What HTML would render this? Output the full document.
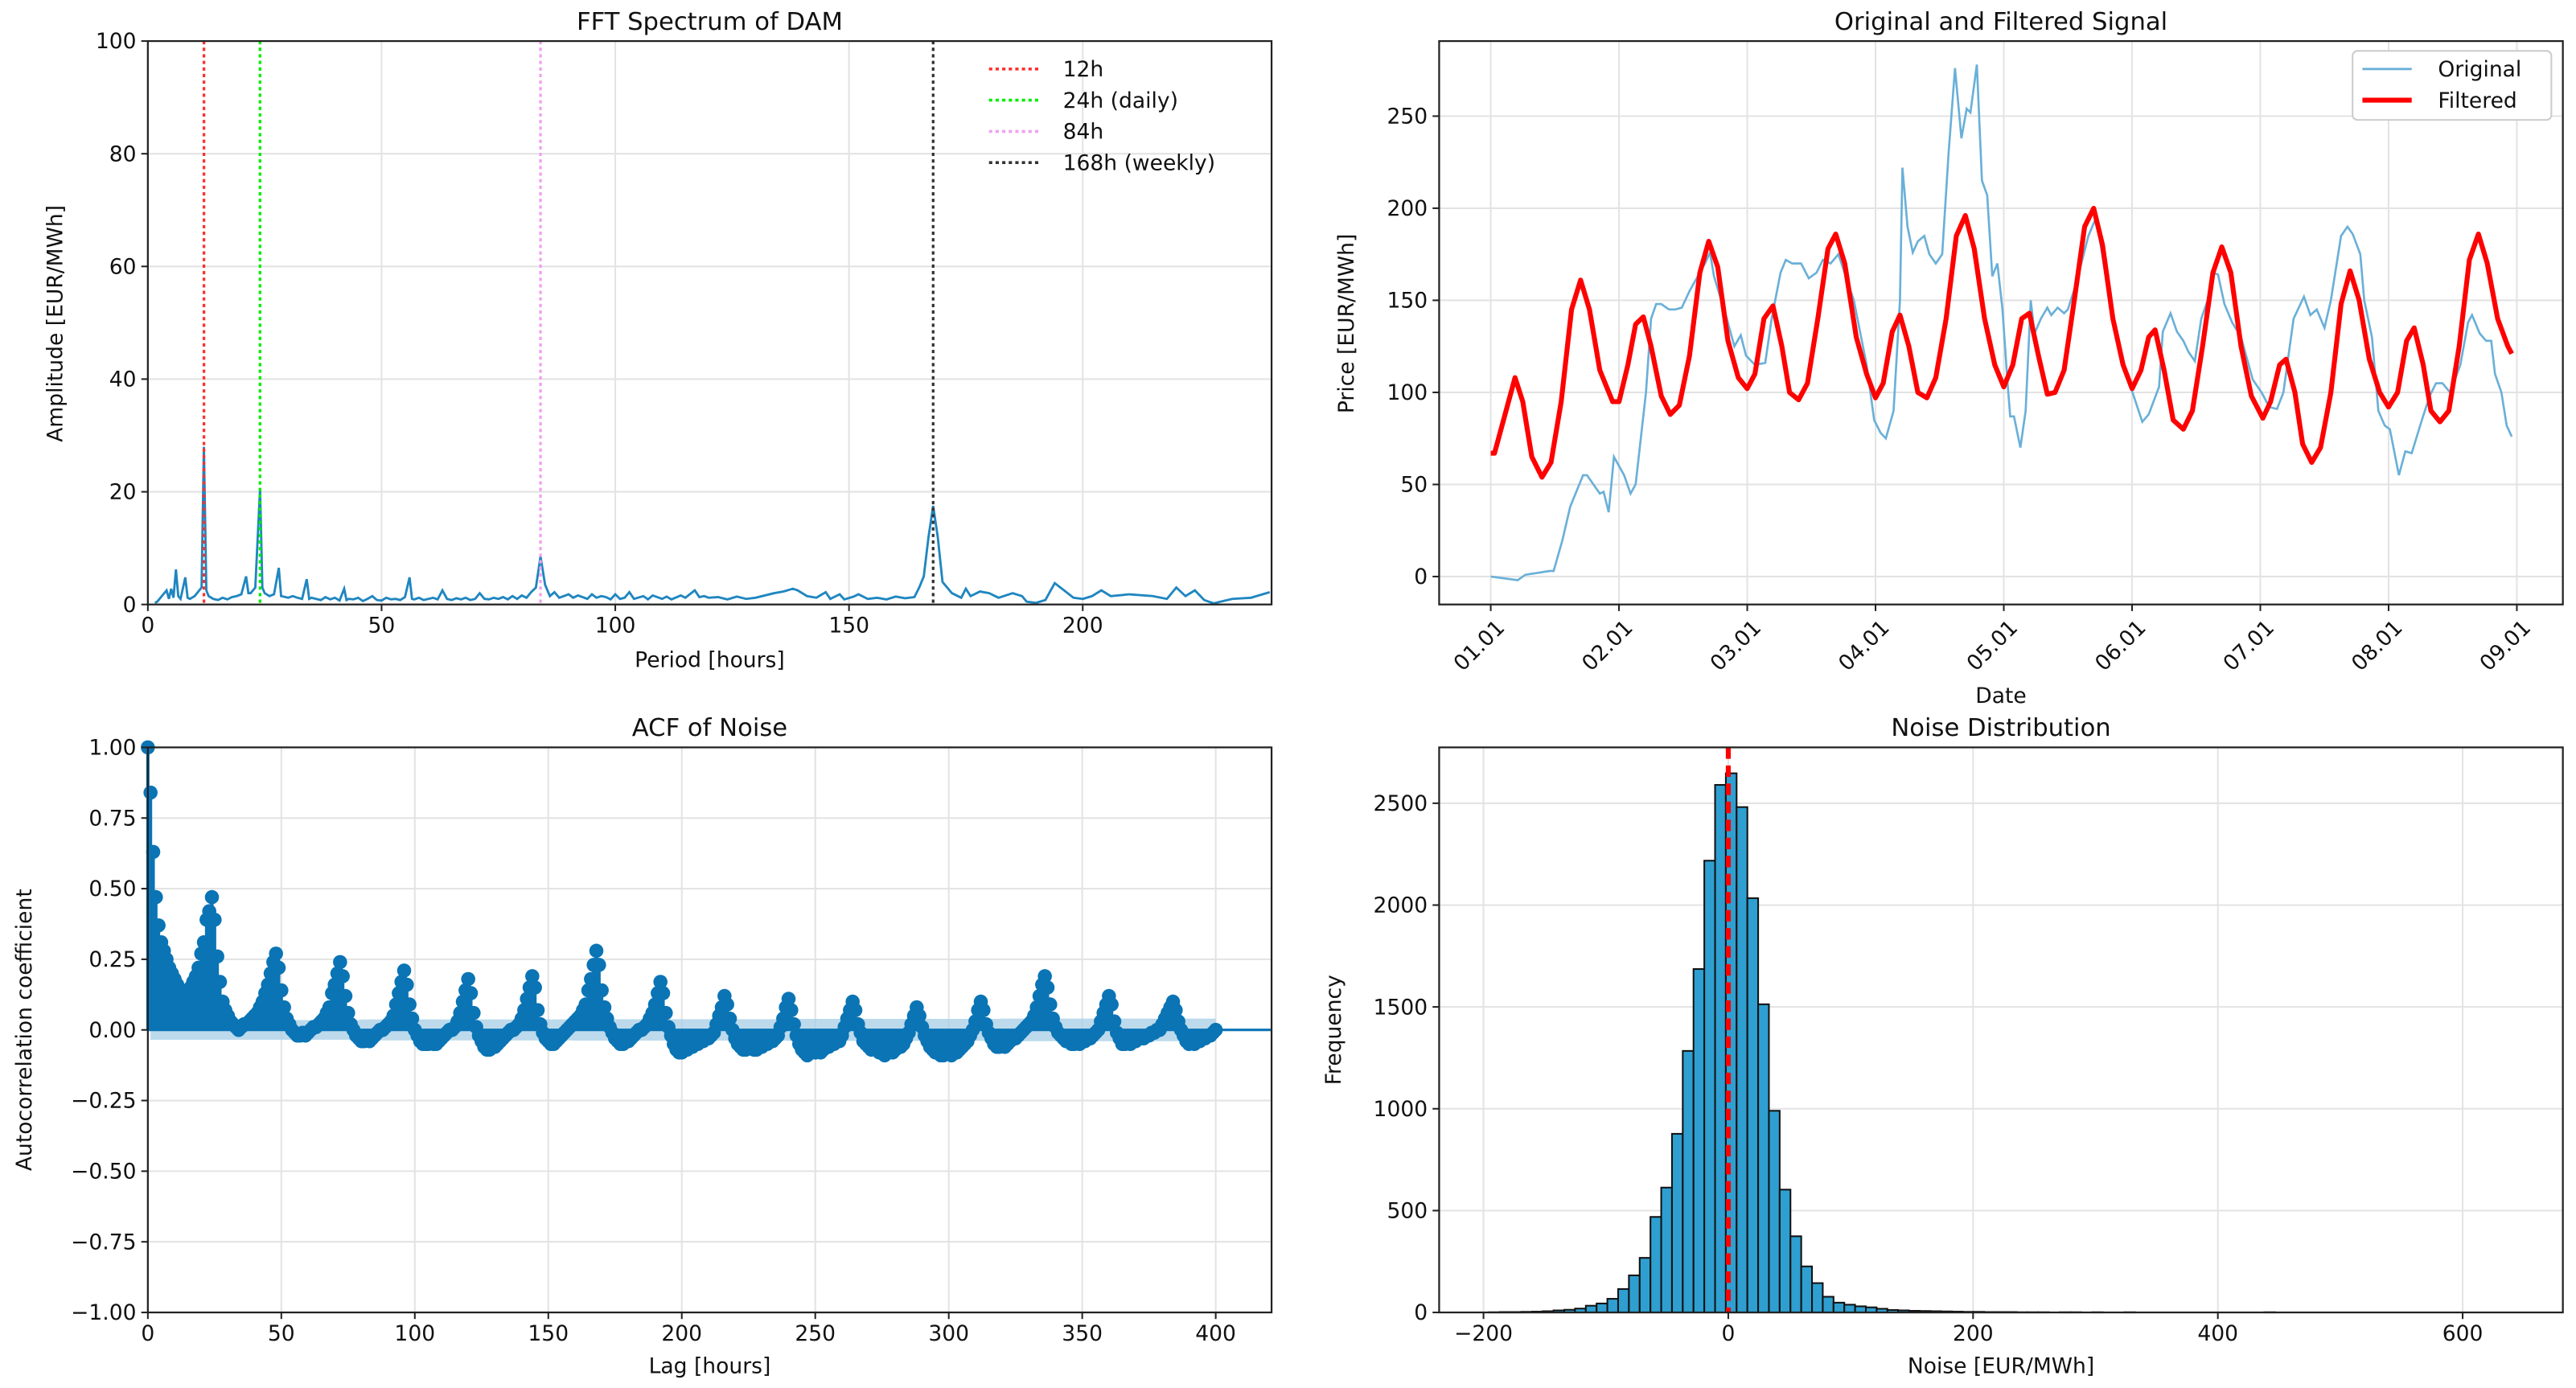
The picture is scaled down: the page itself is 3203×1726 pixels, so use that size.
<!DOCTYPE html>
<html><head><meta charset="utf-8"><style>
html,body{margin:0;padding:0;background:#fff;}
svg{display:block;font-family:"DejaVu Sans","Liberation Sans",sans-serif;}
</style></head><body>
<svg id="fig" width="3203" height="1726" viewBox="0 0 1568 845" preserveAspectRatio="none" xmlns="http://www.w3.org/2000/svg"></svg>
<script>
// ---------- FFT data ----------
const fftPeriods=[1.5,2,3,4,4.5,5,5.5,6,6.5,7,8,8.5,9,10,11,11.5,12,12.5,13,14,15,16,17,18,19,20,21,21.5,22,23,24,24.5,25,26,27,28,28.5,29,30,31,32,33,34,34.5,35,36,37,38,39,40,41,42,42.5,43,44,45,46,47,48,49,50,51,52,53,54,55,56,56.5,57,58,59,60,61,62,63,64,65,66,67,68,69,70,71,72,73,74,75,76,77,78,79,80,81,82,83,84,85,86,87,88,89,90,91,92,93,94,95,96,97,98,99,100,101,102,103,104,106,107,108,110,111,112,114,115,117,118,119,120,122,124,126,128,130,132,134,136,138,139,141,143,145,146,148,149,151,152,154,156,158,160,162,164,165,166,167,168,169,170,172,174,175,176,178,180,182,185,187,188,190,192,194,196,198,200,202,204,206,210,215,218,220,222,224,226,228,232,236,240];
const fftAmps=[0.3,0.5,1.5,2.5,1,2.8,1.2,6.2,1.5,1,4.8,1.2,1,1.5,2.5,3,28,2.5,1.5,1,0.8,1.2,0.9,1.3,1.5,1.8,5,2,2,3,20.5,3,2,1.5,1.8,6.5,1.5,1.4,1.2,1.5,1.2,1,4.5,1,1.2,1,0.8,1.3,0.9,1.2,0.7,2.8,0.8,1,0.9,1.2,0.6,1,1.5,0.8,0.7,1.2,0.9,1,0.8,1.3,4.8,1,0.9,1.2,0.8,1,1.2,0.9,2.5,1,0.8,1.1,0.9,1.2,0.8,1,2,1,0.9,1.2,1,1.3,0.9,1.5,1,1.6,1.2,2.2,3,8.5,3.5,1.5,2.2,1.2,1.5,1.8,1.2,1.6,1.3,1,1.8,1.2,1.5,1.3,0.9,1.8,1,1.2,2.2,1,1.5,0.9,1.6,1,1.4,0.9,1.6,1.2,2.5,1.3,1.5,1.2,1.3,0.9,1.4,1,1.2,1.6,2,2.3,2.8,2.5,1.5,1.2,2.2,1,1.8,0.9,1.4,1.8,1,1.2,0.9,1.4,1.1,1.3,3,5,12,17.5,12,4,2,1.2,2.8,1.5,2.3,2,1.2,2,1.5,0.5,0.3,0.8,3.8,2.5,1.2,1,1.5,2.5,1.5,1.8,1.5,1,3,1.5,2.5,0.8,0.2,1,1.2,2.2];
const fftMarkerPeriods=[12,24,84,168];
const fftMarkerLabels=["12h","24h (daily)","84h","168h (weekly)"];
const fftXTicks=[0,50,100,150,200];
const fftYTicks=[0,20,40,60,80,100];
// ---------- Signal data ----------
const origT=[0,0.21,0.27,0.46,0.49,0.56,0.62,0.72,0.75,0.85,0.88,0.92,0.96,1.04,1.09,1.13,1.21,1.25,1.29,1.33,1.39,1.44,1.49,1.55,1.67,1.71,1.74,1.84,1.90,1.95,1.99,2.06,2.14,2.19,2.26,2.30,2.35,2.42,2.48,2.54,2.59,2.65,2.71,2.83,2.93,2.99,3.04,3.08,3.14,3.19,3.21,3.25,3.29,3.33,3.38,3.42,3.47,3.52,3.57,3.62,3.67,3.71,3.74,3.79,3.83,3.87,3.91,3.95,3.99,4.03,4.05,4.08,4.13,4.17,4.21,4.24,4.29,4.34,4.37,4.42,4.47,4.50,4.56,4.66,4.72,4.79,4.88,4.98,5.08,5.13,5.21,5.24,5.30,5.35,5.40,5.44,5.49,5.54,5.59,5.63,5.67,5.72,5.78,5.85,5.94,6.01,6.07,6.13,6.18,6.26,6.34,6.39,6.44,6.50,6.55,6.63,6.68,6.72,6.78,6.81,6.87,6.92,6.97,7.01,7.08,7.13,7.18,7.26,7.32,7.37,7.42,7.48,7.56,7.62,7.65,7.71,7.76,7.80,7.83,7.88,7.92,7.96];
const origV=[0,-2,1,3,3,20,38,55,55,45,46,35,65,55,45,50,100,140,148,148,145,145,146,155,170,176,163,140,125,131,120,115,116,140,165,172,170,170,162,165,172,170,175,150,115,85,78,75,90,150,222,190,176,182,185,175,170,175,230,276,238,254,252,278,215,207,163,170,145,105,87,87,70,90,150,132,140,146,142,146,143,145,158,185,195,165,130,105,84,88,103,133,143,133,128,122,117,140,150,165,164,148,138,130,107,100,92,91,100,140,152,142,145,135,150,185,190,186,175,150,130,90,82,80,55,68,67,85,98,105,105,100,115,138,142,132,128,128,110,100,82,76];
const filtT=[0,0.03,0.1,0.19,0.25,0.32,0.4,0.47,0.55,0.63,0.7,0.77,0.85,0.95,1.0,1.07,1.13,1.19,1.25,1.33,1.4,1.47,1.55,1.63,1.7,1.77,1.85,1.93,2.0,2.06,2.13,2.2,2.27,2.33,2.4,2.47,2.55,2.63,2.69,2.76,2.85,2.93,3.0,3.06,3.13,3.19,3.26,3.33,3.4,3.47,3.55,3.63,3.7,3.77,3.85,3.93,4.0,4.07,4.14,4.2,4.27,4.34,4.4,4.47,4.55,4.63,4.7,4.77,4.85,4.93,5.0,5.07,5.13,5.18,5.25,5.32,5.4,5.47,5.55,5.63,5.7,5.77,5.85,5.93,6.02,6.08,6.15,6.2,6.27,6.33,6.4,6.47,6.55,6.63,6.7,6.77,6.85,6.93,7.0,7.07,7.14,7.2,7.27,7.33,7.4,7.47,7.55,7.63,7.7,7.77,7.85,7.93,7.96];
const filtV=[67,67,85,108,95,65,54,62,95,145,161,145,112,95,95,115,137,141,125,98,88,93,120,165,182,168,128,108,102,110,140,147,125,100,96,105,140,178,186,170,130,110,97,105,133,142,125,100,97,108,140,185,196,178,140,115,103,115,140,143,120,99,100,112,150,190,200,180,140,115,102,112,130,134,112,85,80,90,125,165,179,165,125,98,86,95,115,118,100,72,62,70,100,148,166,150,118,100,92,100,128,135,115,90,84,90,125,172,186,170,140,125,121];
const sigYTicks=[0,50,100,150,200,250];
const sigXTicks=[0,1,2,3,4,5,6,7,8];
const sigXLabels=["01.01","02.01","03.01","04.01","05.01","06.01","07.01","08.01","09.01"];
// ---------- ACF data (lags 0..400) ----------
const acfValues=[1.00,0.84,0.63,0.47,0.37,0.31,0.28,0.25,0.22,0.20,0.18,0.16,0.14,0.13,0.13,0.14,0.15,0.17,0.19,0.22,0.27,0.31,0.39,0.42,0.47,
0.39,0.26,0.17,0.10,0.07,0.05,0.03,0.02,0.01,0.00,0.01,0.02,0.02,0.03,0.04,0.05,0.06,0.08,0.10,0.13,0.16,0.20,0.24,0.27,
0.22,0.14,0.08,0.04,0.02,0.00,-0.01,-0.02,-0.02,-0.01,-0.02,-0.01,0.00,0.01,0.01,0.02,0.03,0.04,0.06,0.08,0.13,0.16,0.20,0.24,
0.19,0.12,0.06,0.02,0.00,-0.02,-0.03,-0.04,-0.04,-0.03,-0.04,-0.03,-0.02,-0.01,0.00,0.00,0.01,0.02,0.03,0.05,0.09,0.13,0.17,0.21,
0.16,0.09,0.04,0.00,-0.02,-0.04,-0.05,-0.05,-0.05,-0.04,-0.05,-0.05,-0.04,-0.03,-0.02,-0.01,0.00,0.00,0.01,0.03,0.06,0.10,0.14,0.18,
0.13,0.06,0.01,-0.02,-0.04,-0.06,-0.07,-0.07,-0.06,-0.06,-0.05,-0.04,-0.03,-0.02,-0.01,0.00,0.00,0.01,0.02,0.04,0.07,0.11,0.15,0.19,
0.15,0.07,0.02,-0.01,-0.03,-0.04,-0.05,-0.05,-0.04,-0.03,-0.02,-0.01,0.00,0.01,0.02,0.03,0.04,0.05,0.07,0.09,0.14,0.18,0.23,0.28,
0.23,0.14,0.08,0.04,0.01,-0.01,-0.03,-0.04,-0.05,-0.05,-0.04,-0.04,-0.03,-0.02,-0.01,0.00,0.00,0.01,0.02,0.04,0.06,0.09,0.13,0.17,
0.13,0.06,0.01,-0.02,-0.05,-0.07,-0.08,-0.08,-0.07,-0.07,-0.06,-0.06,-0.05,-0.05,-0.04,-0.04,-0.03,-0.03,-0.02,-0.01,0.02,0.05,0.08,0.12,
0.09,0.04,0.00,-0.03,-0.05,-0.06,-0.07,-0.07,-0.06,-0.06,-0.07,-0.07,-0.06,-0.06,-0.05,-0.05,-0.04,-0.04,-0.03,-0.02,0.01,0.04,0.08,0.11,
0.07,0.02,-0.02,-0.05,-0.07,-0.08,-0.09,-0.08,-0.07,-0.08,-0.07,-0.08,-0.07,-0.06,-0.06,-0.05,-0.05,-0.04,-0.04,-0.02,0.01,0.04,0.07,0.10,
0.07,0.02,-0.01,-0.04,-0.05,-0.06,-0.07,-0.06,-0.07,-0.08,-0.08,-0.09,-0.08,-0.07,-0.08,-0.07,-0.06,-0.06,-0.05,-0.03,-0.01,0.02,0.05,0.08,
0.05,0.01,-0.02,-0.04,-0.06,-0.07,-0.08,-0.08,-0.09,-0.09,-0.08,-0.08,-0.09,-0.08,-0.08,-0.07,-0.06,-0.05,-0.04,-0.02,0.00,0.03,0.07,0.10,
0.07,0.02,-0.01,-0.03,-0.05,-0.06,-0.06,-0.05,-0.06,-0.05,-0.04,-0.03,-0.03,-0.02,-0.01,0.00,0.01,0.02,0.03,0.05,0.08,0.12,0.16,0.19,
0.15,0.09,0.04,0.01,-0.01,-0.02,-0.03,-0.04,-0.04,-0.05,-0.05,-0.04,-0.05,-0.04,-0.04,-0.03,-0.03,-0.02,-0.01,0.00,0.03,0.06,0.09,0.12,
0.09,0.03,-0.01,-0.03,-0.05,-0.05,-0.04,-0.05,-0.04,-0.04,-0.03,-0.03,-0.03,-0.02,-0.02,-0.01,-0.01,0.00,0.00,0.02,0.04,0.06,0.08,0.10,
0.07,0.03,0.00,-0.02,-0.04,-0.05,-0.04,-0.05,-0.04,-0.04,-0.03,-0.03,-0.02,-0.02,-0.01,0.00];
const acfConfBand=[0.035,0.037,0.038,0.039,0.040];
const acfXTicks=[0,50,100,150,200,250,300,350,400];
const acfYTicks=[-1,-0.75,-0.5,-0.25,0,0.25,0.5,0.75,1];
// ---------- Histogram data ----------
const histStart=-195.6;
const histBinWidth=8.8;
const histCounts=[1,2,2,3,4,6,10,13,19,33,44,67,115,182,268,469,613,877,1284,1686,2218,2590,
2647,2481,2034,1513,990,603,374,226,144,77,48,38,30,25,18,12,10,8,7,6,5,4,3,3,2,2,2,1,1,1,0,1,1,0,1,0,0,1,0,0,0,0,0,0,0,0,0,0,0,0,1];
const histXTicks=[-200,0,200,400,600];
const histYTicks=[0,500,1000,1500,2000,2500];

const svg=document.getElementById('fig');
const NS='http://www.w3.org/2000/svg';
function mk(tag,attrs,parent){const e=document.createElementNS(NS,tag);for(const k in attrs)e.setAttribute(k,attrs[k]);(parent||svg).appendChild(e);return e;}
function txt(s,x,y,size,anchor,parent,rot){const t=mk('text',{x:x,y:y,'font-size':size,'text-anchor':anchor||'middle',fill:'#111'},parent);if(rot)t.setAttribute('transform','rotate('+rot+' '+x+' '+y+')');t.textContent=s;return t;}
function lin(d0,d1,p0,p1){return v=>p0+(v-d0)*(p1-p0)/(d1-d0);}

function axes(name,L,R,T,B){const g=mk('g',{});return g;}
function frame(g,L,R,T,B){const f=mk('rect',{x:L,y:T,width:R-L,height:B-T,fill:'none',stroke:'#222','stroke-width':1.1},g);}
function gridX(g,xs,sx,T,B){xs.forEach(v=>{mk('line',{x1:sx(v),x2:sx(v),y1:T,y2:B,stroke:'#e3e3e3','stroke-width':1},g);});}
function gridY(g,ys,sy,L,R){ys.forEach(v=>{mk('line',{x1:L,x2:R,y1:sy(v),y2:sy(v),stroke:'#e3e3e3','stroke-width':1},g);});}
function ticksX(g,xs,sx,B,labels){xs.forEach((v,i)=>{mk('line',{x1:sx(v),x2:sx(v),y1:B,y2:B+4,stroke:'#222'},g);const t=txt(labels?labels[i]:String(v),sx(v),B+17,13,'middle',g);});}
function ticksY(g,ys,sy,L,fmt){ys.forEach(v=>{mk('line',{x1:L-4,x2:L,y1:sy(v),y2:sy(v),stroke:'#222'},g);const t=txt(fmt?fmt(v):String(v),L-7,sy(v)+4.5,13,'end',g);});}

// ===== FFT =====
(function(){const L=90,R=774,T=25,B=368;const g=axes('fft-spectrum-chart');
const sx=lin(0,240.4,L,R),sy=lin(0,100,B,T);
gridX(g,fftXTicks,sx,T,B);gridY(g,fftYTicks,sy,L,R);
const cols=['#ff3030','#00ee00','#f0a0f0','#333'];
const pts=fftPeriods.map((p,i)=>sx(p).toFixed(1)+','+sy(fftAmps[i]).toFixed(1)).join(' ');
const pl=mk('polyline',{points:pts,fill:'none',stroke:'#1f86c0','stroke-width':1.4},g);

fftMarkerPeriods.forEach((p,i)=>{const l=mk('line',{x1:sx(p),x2:sx(p),y1:T,y2:B,stroke:cols[i],'stroke-width':1.6,'stroke-dasharray':'2,2'},g);});
frame(g,L,R,T,B);ticksX(g,fftXTicks,sx,B);ticksY(g,fftYTicks,sy,L);
const t1=txt('FFT Spectrum of DAM',432,18,15,'middle',g);
const t2=txt('Period [hours]',432,406,13,'middle',g);
const t3=txt('Amplitude [EUR/MWh]',38,197,13,'middle',g,-90);
const lg=mk('g',{},g);
fftMarkerLabels.forEach((s,i)=>{const y=42+i*19;mk('line',{x1:602,x2:632,y1:y,y2:y,stroke:cols[i],'stroke-width':1.8,'stroke-dasharray':'2,2'},lg);const e=txt(s,647,y+4.5,13,'start',lg);});
})();

// ===== Signal =====
(function(){const L=876,R=1560,T=25,B=368;const g=axes('signal-chart');
const sx=lin(0,8,907.4,1532),sy=lin(0,250,351,70.7);
gridX(g,sigXTicks,sx,T,B);gridY(g,sigYTicks,sy,L,R);
const p1=mk('polyline',{points:origT.map((t,i)=>sx(t).toFixed(1)+','+sy(origV[i]).toFixed(1)).join(' '),fill:'none',stroke:'#6ab0d8','stroke-width':1.3},g);

const p2=mk('polyline',{points:filtT.map((t,i)=>sx(t).toFixed(1)+','+sy(filtV[i]).toFixed(1)).join(' '),fill:'none',stroke:'#ff0000','stroke-width':3,'stroke-linejoin':'round'},g);

frame(g,L,R,T,B);ticksY(g,sigYTicks,sy,L);
sigXTicks.forEach((v,i)=>{mk('line',{x1:sx(v),x2:sx(v),y1:B,y2:B+4,stroke:'#222'},g);const t=txt(sigXLabels[i],sx(v)-4,396,13,'middle',g,-45);});
const t1=txt('Original and Filtered Signal',1218,18,15,'middle',g);
const t2=txt('Date',1218,428,13,'middle',g);
const t3=txt('Price [EUR/MWh]',824,197,13,'middle',g,-90);
const lg=mk('g',{},g);
mk('rect',{x:1432,y:31,width:121,height:42,rx:3,fill:'#fff',stroke:'#ccc','stroke-width':1},lg);
mk('line',{x1:1438,x2:1468,y1:42,y2:42,stroke:'#6ab0d8','stroke-width':1.4},lg);
mk('line',{x1:1438,x2:1468,y1:61,y2:61,stroke:'#ff0000','stroke-width':3},lg);
let e=txt('Original',1484,46.5,13,'start',lg);
e=txt('Filtered',1484,65.5,13,'start',lg);
})();

// ===== ACF =====
(function(){const L=90,R=774,T=455,B=799;const g=axes('acf-chart');
const sx=lin(0,400,90,740),sy=lin(-1,1,B,T);
gridX(g,acfXTicks,sx,T,B);gridY(g,acfYTicks,sy,L,R);
const n=acfValues.length;const up=[],dn=[];
for(let i=1;i<n;i++){const c=acfConfBand[Math.min(acfConfBand.length-1,Math.floor(i/80))];up.push(sx(i).toFixed(1)+','+sy(c).toFixed(1));dn.unshift(sx(i).toFixed(1)+','+sy(-c).toFixed(1));}
const band=mk('polygon',{points:up.concat(dn).join(' '),fill:'#a6cde6',opacity:0.75},g);

mk('line',{x1:L,x2:R,y1:sy(0),y2:sy(0),stroke:'#0a74b5','stroke-width':1.5},g);
const sg=mk('g',{},g);
acfValues.forEach((v,i)=>{mk('line',{x1:sx(i),x2:sx(i),y1:sy(0),y2:sy(v),stroke:'#0a74b5','stroke-width':2},sg);mk('circle',{cx:sx(i),cy:sy(v),r:4.3,fill:'#0a74b5'},sg);});
frame(g,L,R,T,B);ticksX(g,acfXTicks,sx,B);ticksY(g,acfYTicks,sy,L,v=>(v<0?'\u2212'+Math.abs(v).toFixed(2):v.toFixed(2)));
const t1=txt('ACF of Noise',432,448,15,'middle',g);
const t2=txt('Lag [hours]',432,836,13,'middle',g);
const t3=txt('Autocorrelation coefficient',19,627,13,'middle',g,-90);
})();

// ===== Histogram =====
(function(){const L=876,R=1560,T=455,B=799;const g=axes('noise-histogram');
const sx=lin(0,200,1052,1201),sy=lin(0,2500,B,489);
gridX(g,histXTicks,sx,T,B);gridY(g,histYTicks,sy,L,R);
const bg=mk('g',{},g);
histCounts.forEach((c,i)=>{if(c<=0)return;const x0=histStart+i*histBinWidth;mk('rect',{x:sx(x0),y:sy(c),width:sx(x0+histBinWidth)-sx(x0),height:B-sy(c),fill:'#2e9fd0',stroke:'#111','stroke-width':1},bg);});
const ml=mk('line',{x1:sx(0),x2:sx(0),y1:T,y2:B,stroke:'#ff0000','stroke-width':3,'stroke-dasharray':'7,4'},g);

frame(g,L,R,T,B);ticksX(g,histXTicks,sx,B,histXTicks.map(v=>v<0?'\u2212'+Math.abs(v):String(v)));ticksY(g,histYTicks,sy,L);
const t1=txt('Noise Distribution',1218,448,15,'middle',g);
const t2=txt('Noise [EUR/MWh]',1218,836,13,'middle',g);
const t3=txt('Frequency',816,627,13,'middle',g,-90);
})();
</script>
</body></html>
